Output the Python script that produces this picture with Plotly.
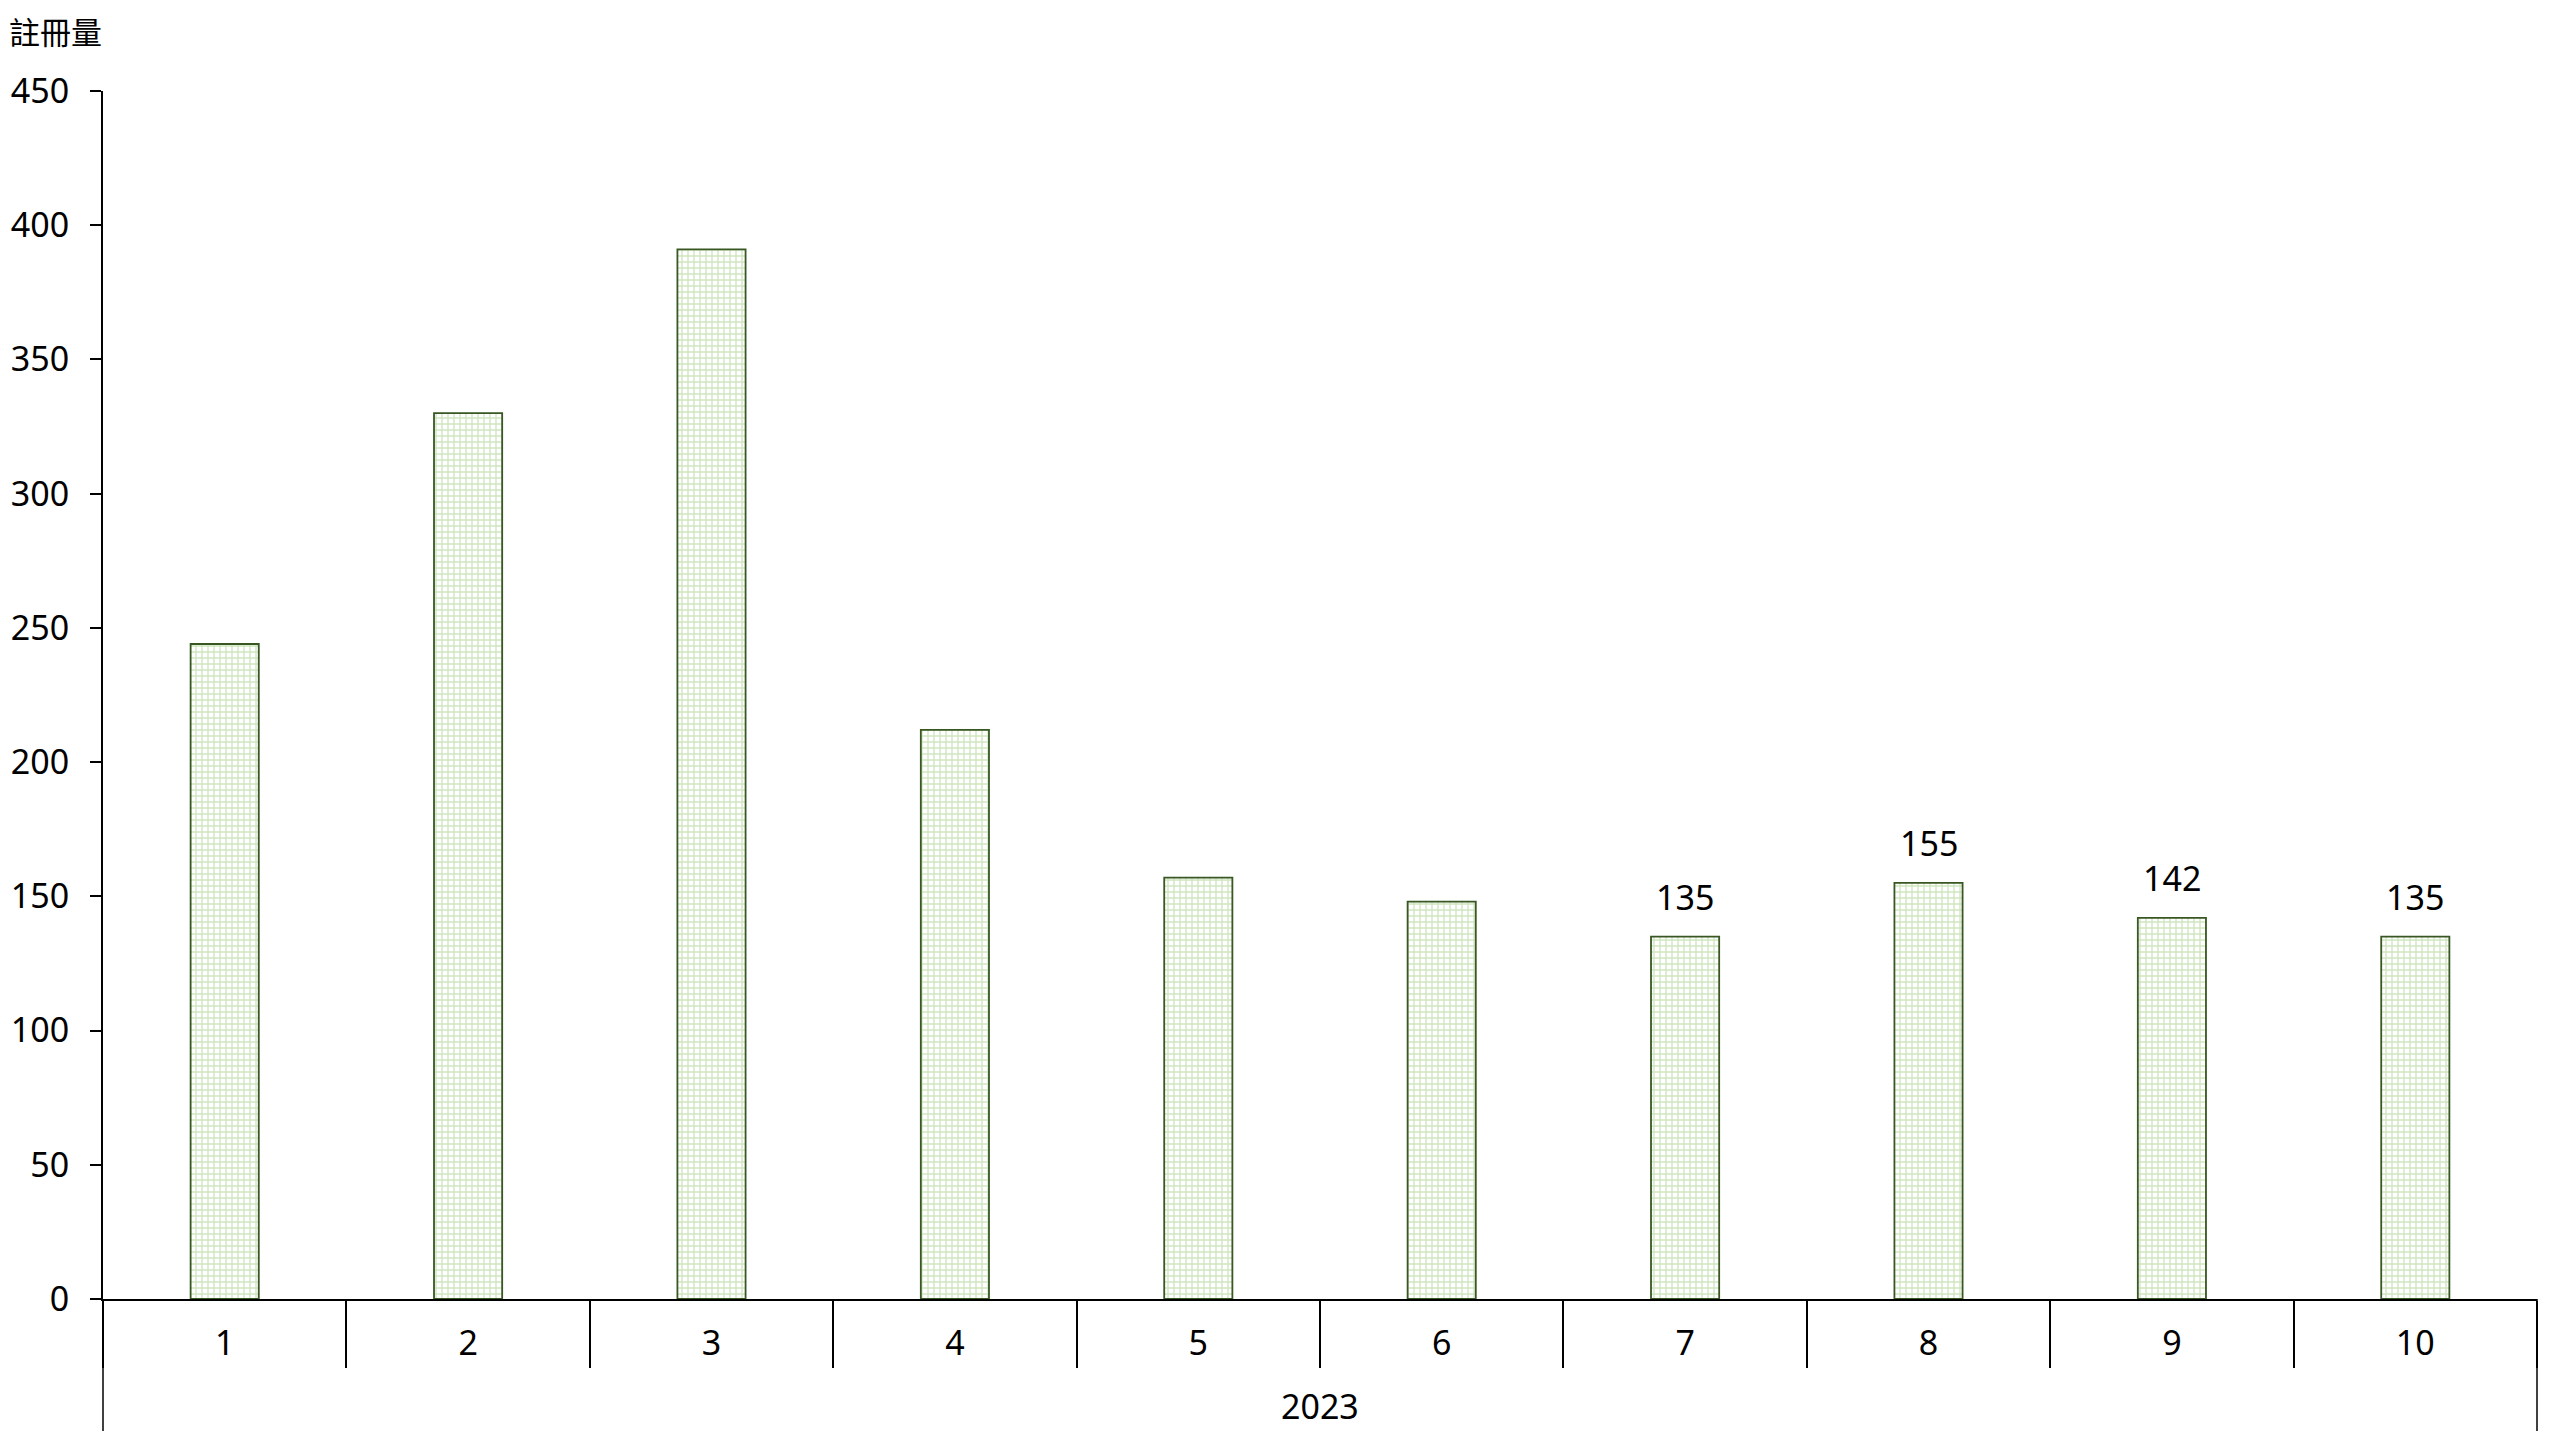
import plotly.graph_objects as go

months = ["1", "2", "3", "4", "5", "6", "7", "8", "9", "10"]
year = "2023"
values = [244, 330, 391, 212, 157, 148, 135, 155, 142, 135]
labeled = [False, False, False, False, False, False, True, True, True, True]
y_ticks = [0, 50, 100, 150, 200, 250, 300, 350, 400, 450]
y_title = "註冊量"

FONT = "Noto Sans, Noto Sans CJK TC, sans-serif"
FS = 34

# the html page body has an 8px margin, so the figure is sized to fit inside it
W, H = 2544, 1424
L, R, T, B = 95, 15, 83, 133
plot_w = W - L - R
plot_h = H - T - B

fig = go.Figure()
fig.add_trace(go.Bar(
    x=months,
    y=values,
    width=0.28,
    marker=dict(
        color="white",
        line=dict(color="#385723", width=1.8),
        pattern=dict(shape="+", fgcolor="#9FCB80", bgcolor="white", size=6, solidity=0.4, fillmode="overlay"),
    ),
    showlegend=False,
))

for i, (m, v, show) in enumerate(zip(months, values, labeled)):
    if show:
        fig.add_annotation(
            x=i, y=v, xref="x", yref="y",
            text=str(v),
            showarrow=False,
            yanchor="bottom",
            yshift=15,
            font=dict(size=FS, color="black", family=FONT),
        )

# y-axis title (top-left)
fig.add_annotation(
    text=y_title, xref="paper", yref="paper", x=(-1 - L) / plot_w, y=1.0,
    xanchor="left", yanchor="middle", yshift=59, showarrow=False,
    font=dict(size=31, color="black", family=FONT),
)

# outer category label (year)
fig.add_annotation(
    text=year, xref="paper", yref="paper", x=0.5, y=0,
    xanchor="center", yanchor="middle", yshift=-107, showarrow=False,
    font=dict(size=FS, color="black", family=FONT),
)

# outer-level dividers at both ends of the year group
div_len = (B - 1) / plot_h
for xd in (0, 1):
    fig.add_shape(
        type="line", xref="x domain", yref="paper",
        x0=xd, x1=xd, y0=0, y1=-div_len,
        line=dict(color="black", width=1.5),
    )

fig.update_layout(
    width=W, height=H,
    paper_bgcolor="white", plot_bgcolor="white",
    margin=dict(l=L, r=R, t=T, b=B, pad=0, autoexpand=False),
    font=dict(family=FONT, size=FS, color="black"),
    xaxis=dict(
        type="category", automargin=False,
        showline=True, linecolor="black", linewidth=2,
        ticks="outside", tickson="boundaries", ticklen=67, tickcolor="black", tickwidth=1.5,
        showgrid=False, zeroline=False,
        tickfont=dict(size=FS, color="black", family=FONT),
        ticklabelstandoff=13,
    ),
    yaxis=dict(
        range=[0, 450], tickvals=y_ticks, automargin=False,
        showline=True, linecolor="black", linewidth=2,
        ticks="outside", ticklen=11, tickcolor="black", tickwidth=1.5,
        showgrid=False, zeroline=False,
        tickfont=dict(size=FS, color="black", family=FONT),
        ticklabelstandoff=14,
    ),
)

fig.write_html("out.html")
